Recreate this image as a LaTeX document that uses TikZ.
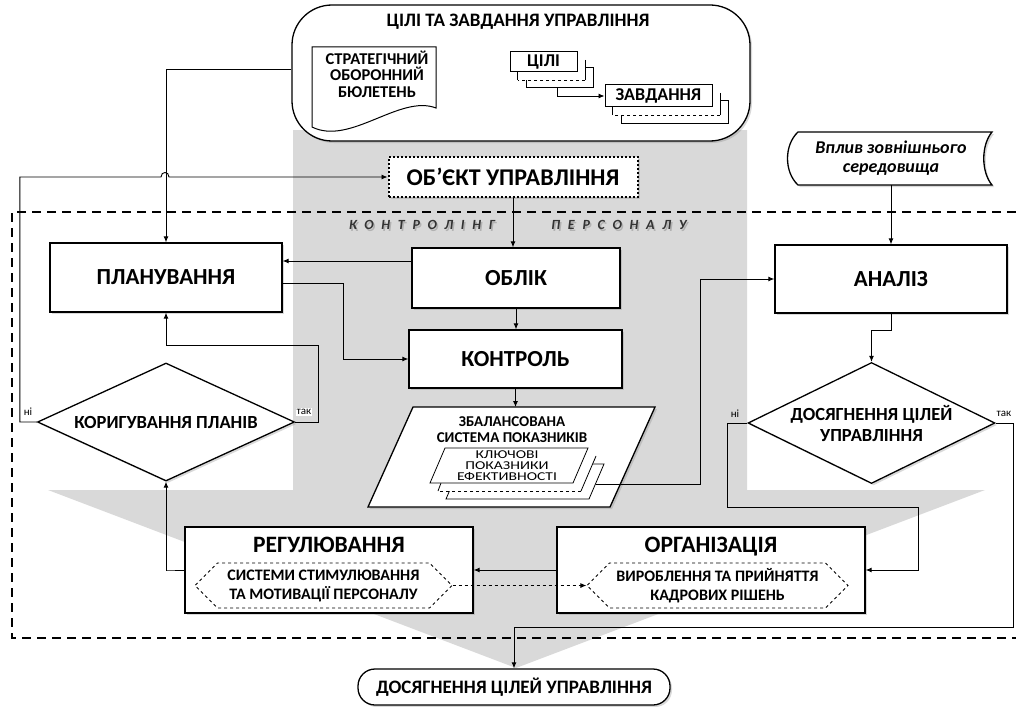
\documentclass[tikz,border=0pt]{standalone}
\usepackage{fontspec}
\setmainfont{Carlito}
\newfontfamily\spacedfont[LetterSpace=55]{Carlito}
\newfontfamily\widefont[FakeStretch=1.3]{Carlito}
\usetikzlibrary{arrows.meta, calc, positioning, shapes.geometric, shapes.symbols, shadows}

\tikzset{
  conn/.style={line width=0.9pt, -{Latex[length=6pt,width=5pt]}},
  boxline/.style={draw=black, line width=1.3pt, fill=white},
  shade/.style={drop shadow={shadow xshift=2pt, shadow yshift=-2pt, opacity=0.3}},
  block/.style={boxline, shade, rectangle, inner sep=0pt, align=center,
                font=\fontsize{23}{26}\selectfont\bfseries},
  title/.style={anchor=base, font=\fontsize{23.5}{26}\selectfont\bfseries},
  decision/.style={boxline, shade, diamond, inner sep=0pt, align=center,
                   font=\fontsize{18.5}{21}\selectfont\bfseries},
  sub/.style={draw, dashed, line width=0.8pt, signal, signal to=west and east,
              signal pointer angle=90, inner sep=0pt, align=center,
              font=\fontsize{16}{19}\selectfont\bfseries},
  stackbox/.style={boxline, line width=1pt, inner sep=0pt,
                   font=\fontsize{18}{20}\selectfont\bfseries},
  midlayer/.style={fill=white, draw=none, inner sep=0pt},
  answer/.style={font=\fontsize{11}{12}\selectfont, inner sep=1pt},
  framelabel/.style={font=\spacedfont\fontsize{14}{16}\selectfont\bfseries\itshape},
}

\begin{document}
\begin{tikzpicture}[x=1pt, y=-1pt, >=Latex]
  \useasboundingbox (0,0) rectangle (1016,706);
  % grey arrow behind the cycle
  \fill[black!15] (293,130) -- (747,130) -- (747,490) -- (985,490) -- (516,668)
        -- (48,490) -- (293,490) -- cycle;
  % controlling frame
  \draw[line width=1.1pt, dash pattern=on 9pt off 6pt]
        (1016,212) -- (12,212) -- (12,638) -- (1016,638);
  \foreach \t/\x in {КОНТРОЛІНГ/422, ПЕРСОНАЛУ/619} {
    \node[framelabel, text=black!30] at (\x+1.5,226.5) {\t};
    \node[framelabel, text=black!80] at (\x,225) {\t};
  }

  % goals and tasks
  \node[boxline, shade, rounded corners=40pt, minimum width=458pt,
        minimum height=136pt] (goals) at (521,73) {};
  \node[font=\fontsize{19}{21}\selectfont\bfseries] (goalstitle) at (518,22)
        {ЦІЛІ ТА ЗАВДАННЯ УПРАВЛІННЯ};
  \draw[boxline, line width=1pt] (312,47) -- (436,47) -- (436,108)
        .. controls (400,94) and (350,146) .. (312,127) -- cycle;
  \node[font=\fontsize{16.5}{16.5}\selectfont\bfseries, align=center] (bulletin)
        at (377,74) {СТРАТЕГІЧНИЙ\\ОБОРОННИЙ\\БЮЛЕТЕНЬ};
  \node[stackbox, minimum width=67pt, minimum height=20pt] (cili3) at (559.5,78) {};
  \node[midlayer, minimum width=67pt, minimum height=20pt] (cili2) at (551.5,70) {};
  \draw[line width=1pt] (cili2.south west) -- (cili2.north west)
        (cili2.north east) -- (cili2.south east);
  \draw[line width=1pt, dashed] (cili2.south east) -- (cili2.south west);
  \node[stackbox, minimum width=67pt, minimum height=20pt] (cili) at (543.5,62) {ЦІЛІ};
  \node[stackbox, minimum width=107pt, minimum height=22pt] (zavd3) at (674.5,112) {};
  \node[midlayer, minimum width=107pt, minimum height=22pt] (zavd2) at (666.5,104) {};
  \draw[line width=1pt] (zavd2.south west) -- (zavd2.north west)
        (zavd2.north east) -- (zavd2.south east);
  \draw[line width=1pt, dashed] (zavd2.south east) -- (zavd2.south west);
  \node[stackbox, minimum width=107pt, minimum height=22pt] (zavd) at (658.5,96) {ЗАВДАННЯ};
  \draw[conn] ([xshift=-2pt]cili3.south) |- (zavd.west);

  % external influence
  \draw[boxline, shade] (798,132) -- (992,132) .. controls (981,145) and (981,172)
        .. (992,185) -- (798,185) .. controls (784,172) and (784,145) .. cycle;
  \node[font=\fontsize{18}{19}\selectfont\bfseries\itshape, align=center,
        minimum height=53pt, inner sep=0pt] (vplyv) at (891,158.5)
        {Вплив зовнішнього\\середовища};

  % object of management
  \node[block, line width=2pt, dash pattern=on 2pt off 2pt, minimum width=249pt,
        minimum height=40pt, font=\fontsize{24}{26}\selectfont\bfseries] (object)
        at (513,177) {ОБ'ЄКТ УПРАВЛІННЯ};

  % main blocks
  \node[block, minimum width=232pt, minimum height=69pt] (plan) at (166,277.5) {ПЛАНУВАННЯ};
  \node[block, minimum width=208pt, minimum height=60pt] (oblik) at (516,278) {ОБЛІК};
  \node[block, minimum width=213pt, minimum height=58pt] (kontrol) at (515.5,359) {КОНТРОЛЬ};
  \node[block, minimum width=232pt, minimum height=68pt] (analiz) at (891,279) {АНАЛІЗ};

  % balanced scorecard
  \draw[boxline, shade] (413,407) -- (655,407) -- (610,507) -- (368,507) -- cycle;
  \coordinate (bsctop) at (515.5,407);
  \node[font=\fontsize{15}{16}\selectfont\bfseries, align=center] (bsc) at (512,430)
        {ЗБАЛАНСОВАНА\\СИСТЕМА ПОКАЗНИКІВ};
  \draw[fill=white, line width=0.8pt, shift={(16,16)}]
        (445,448) -- (588,448) -- (573,483) -- (430,483) -- cycle;
  \fill[white, shift={(8,8)}] (445,448) -- (588,448) -- (573,483) -- (430,483) -- cycle;
  \draw[line width=0.8pt, shift={(8,8)}] (430,483) -- (433,475)
        (586,453) -- (588,448) -- (573,483);
  \draw[line width=0.8pt, dashed, shift={(8,8)}] (573,483) -- (430,483);
  \draw[fill=white, line width=0.8pt] (445,448) -- (588,448) -- (573,483) -- (430,483) -- cycle;
  \node[font=\widefont\fontsize{12}{11}\selectfont, align=center] (kpi) at (507,465.5)
        {КЛЮЧОВІ\\ПОКАЗНИКИ\\ЕФЕКТИВНОСТІ};
  \coordinate (kpiout) at (596,484);

  % decisions
  \node[decision, aspect=2.2, minimum width=257pt, minimum height=118pt] (korig)
        at (166,422) {КОРИГУВАННЯ ПЛАНІВ};
  \node[decision, aspect=2.05, minimum width=247pt, minimum height=121pt] (dosyag)
        at (871.5,423) {ДОСЯГНЕННЯ ЦІЛЕЙ\\УПРАВЛІННЯ};

  % regulation and organisation
  \node[block, minimum width=288pt, minimum height=86pt] (reg) at (329,570) {};
  \node[title] (regtitle) at (329,552) {РЕГУЛЮВАННЯ};
  \node[sub, minimum width=257pt, minimum height=45pt] (stim) at (323.5,585.5)
        {СИСТЕМИ СТИМУЛЮВАННЯ\\ТА МОТИВАЦІЇ ПЕРСОНАЛУ};
  \node[block, minimum width=308pt, minimum height=86pt] (org) at (711,570) {};
  \node[title] (orgtitle) at (711,552) {ОРГАНІЗАЦІЯ};
  \node[sub, minimum width=261pt, minimum height=45pt] (rishen) at (717.5,585.5)
        {ВИРОБЛЕННЯ ТА ПРИЙНЯТТЯ\\КАДРОВИХ РІШЕНЬ};

  % result
  \node[boxline, shade, rounded corners=17pt, minimum width=312pt, minimum height=36pt,
        font=\fontsize{19}{21}\selectfont\bfseries] (final) at (514,687)
        {ДОСЯГНЕННЯ ЦІЛЕЙ УПРАВЛІННЯ};

  % connectors
  \draw[conn] ([yshift=4pt]goals.west) -| (plan.north);
  \draw[conn] (korig.west) -- ++(-17,0) |- (161,177)
        .. controls (161,171) and (169,171) .. (169,177) -- (object.west);
  \draw[conn] (object.south) -- (object.south |- oblik.north);
  \draw[conn] ([yshift=17pt]oblik.west) -- ([yshift=17pt]oblik.west -| plan.east);
  \draw[conn] (oblik.south) -- (oblik.south |- kontrol.north);
  \draw[conn] ([yshift=-5.5pt]plan.east) -- ++(61,0) |- (kontrol.west);
  \draw[conn] (kontrol.south) -- (bsctop);
  \draw[conn] (kpiout) -- (700,484) |- (analiz.west);
  \draw[conn] (vplyv.south) -- (vplyv.south |- analiz.north);
  \draw[conn] (analiz.south) -- ++(0,17) -| (dosyag.north);
  \draw[conn] (korig.east) -- ++(23,0) |- ($(plan.south)+(0,33)$) -- (plan.south);
  \draw[conn] (reg.west) -- ++(-18,0) -| (korig.south);
  \draw[conn] (org.west) -- (reg.east);
  \draw[conn, dashed] (stim.east) -- (rishen.west);
  \draw[conn] (dosyag.west) -- ++(-20,0) |- (918,507) |- (org.east);
  \draw[conn] (dosyag.east) -- ++(18,0) |- (514,627) -- (final.north);
  % answers
  \node[answer] (no1) at (28,412) {ні};
  \node[answer, fill=white] (yes1) at (304,412) {так};
  \node[answer] (no2) at (735,414) {ні};
  \node[answer] (yes2) at (1004,414) {так};
\end{tikzpicture}
\end{document}
